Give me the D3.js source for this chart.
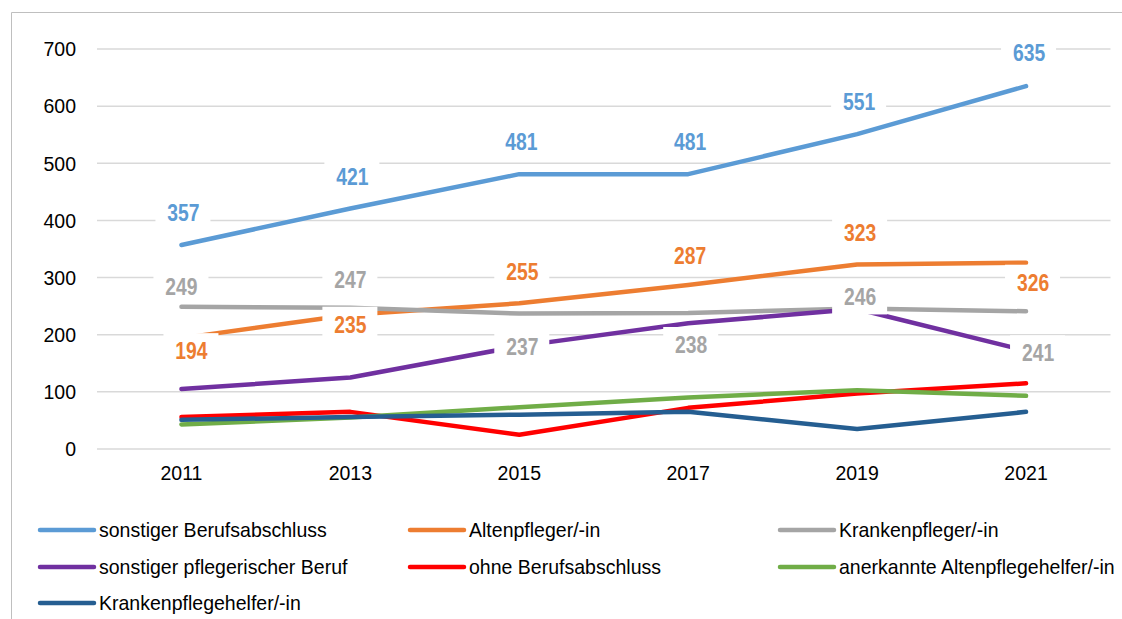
<!DOCTYPE html>
<html>
<head>
<meta charset="utf-8">
<script src="https://cdn.jsdelivr.net/npm/d3@7"></script>
<style>
  body { margin: 0; background: #fff; }
  svg text { font-family: "Liberation Sans Narrow", "Arial Narrow", "Liberation Sans", sans-serif; }
</style>
</head>
<body>
<div id="chart-area"></div>
<script>
/*
*    Line chart: Pflegepersonal nach Berufsabschluss 2011-2021
*/

var years = ["2011", "2013", "2015", "2017", "2019", "2021"];
var yTicks = [0, 100, 200, 300, 400, 500, 600, 700];

var seriesNames = [
    "sonstiger Berufsabschluss", "Altenpfleger/-in", "Krankenpfleger/-in",
    "sonstiger pflegerischer Beruf", "ohne Berufsabschluss",
    "anerkannte Altenpflegehelfer/-in", "Krankenpflegehelfer/-in"
];
var seriesColors = ["#5B9BD5", "#ED7D31", "#A5A5A5", "#7030A0", "#FF0000", "#70AD47", "#255E91"];

var sonstigerBerufsabschluss = [357, 421, 481, 481, 551, 635];
var altenpfleger = [194, 235, 255, 287, 323, 326];
var krankenpfleger = [249, 247, 237, 238, 246, 241];
var sonstigerPflegerisch = [105, 125, 180, 220, 245, 172];
var ohneBerufsabschluss = [56, 65, 25, 72, 97, 115];
var altenpflegehelfer = [43, 55, 73, 90, 103, 93];
var krankenpflegehelfer = [51, 56, 60, 65, 35, 65];

var seriesValues = [sonstigerBerufsabschluss, altenpfleger, krankenpfleger,
    sonstigerPflegerisch, ohneBerufsabschluss, altenpflegehelfer, krankenpflegehelfer];

// which series carry data labels, and where Excel pushed each label (dx, dy from the point)
var labelled = [0, 1, 2];
var labelOffsets = [
    [[2, -32], [2, -31], [2, -32], [2, -32], [2, -32], [3, -33]],
    [[10, 13], [0, 10], [3, -31], [2, -29], [3, -31], [7, 20]],
    [[0, -20], [0, -28], [3, 33], [3, 32], [3, -11], [12, 42]]
];

var margin = { left: 97, right: 12, top: 49, bottom: 170 };
var W = 1122, H = 619;
var width = W - margin.left - margin.right + 0.5;
var height = H - margin.top - margin.bottom;

// no narrow font installed: squeeze the regular one horizontally around its anchor
function condense(sel, ratio){
    sel.each(function(){
        var ax = +(this.getAttribute("x") || 0);
        d3.select(this).attr("transform",
            "translate(" + ax + ",0) scale(" + ratio + ",1) translate(" + (-ax) + ",0)");
    });
}

var svg = d3.select("#chart-area")
    .append("svg")
        .attr("width", W)
        .attr("height", H);

// outer chart frame (only top and left edges are visible)
svg.append("path")
    .attr("d", "M11.5," + H + "V12.5H" + W)
    .attr("fill", "none")
    .attr("stroke", "#BFBFBF")
    .attr("stroke-width", 1);

var g = svg.append("g")
    .attr("transform", "translate(" + margin.left + "," + margin.top + ")");

var x = d3.scaleBand()
    .domain(years)
    .range([0, width])
    .padding(0);

var xc = function(d){ return x(d) + x.bandwidth() / 2; };

var y = d3.scaleLinear()
    .domain([0, 700])
    .range([height, 0]);

// gridlines
g.selectAll(".grid")
    .data(yTicks)
  .enter().append("line")
    .attr("class", "grid")
    .attr("x1", 0)
    .attr("x2", width)
    .attr("y1", function(d){ return y(d); })
    .attr("y2", function(d){ return y(d); })
    .attr("stroke", "#D9D9D9")
    .attr("stroke-width", 1.5);

// y axis labels
var yAxis = d3.axisLeft(y).tickValues(yTicks).tickSize(0).tickPadding(21);
g.append("g")
    .attr("class", "y-axis")
    .call(yAxis)
    .call(function(s){ s.select(".domain").remove(); })
    .selectAll("text")
        .attr("font-size", 21)
        .attr("fill", "#000")
        .attr("font-family", null)
        .call(condense, 0.93);

// x axis labels
var xAxis = d3.axisBottom(x).tickSize(0).tickPadding(16);
g.append("g")
    .attr("class", "x-axis")
    .attr("transform", "translate(0," + height + ")")
    .call(xAxis)
    .call(function(s){ s.select(".domain").remove(); })
    .selectAll("text")
        .attr("font-size", 21)
        .attr("fill", "#000")
        .attr("font-family", null)
        .call(condense, 0.93);

var line = d3.line()
    .x(function(d, i){ return xc(years[i]); })
    .y(function(d){ return y(d); });

g.selectAll(".series")
    .data(seriesValues)
  .enter().append("path")
    .attr("class", "series")
    .attr("d", function(d){ return line(d); })
    .attr("fill", "none")
    .attr("stroke", function(d, i){ return seriesColors[i]; })
    .attr("stroke-width", 4.5)
    .attr("stroke-linecap", "round")
    .attr("stroke-linejoin", "round");

// data labels with white boxes
labelled.forEach(function(si){
    var lab = g.append("g").attr("class", "labels-" + si);
    var pts = seriesValues[si].map(function(v, i){
        return { v: v, i: i, dx: labelOffsets[si][i][0], dy: labelOffsets[si][i][1] };
    });
    lab.selectAll("rect")
        .data(pts)
      .enter().append("rect")
        .attr("x", function(d){ return xc(years[d.i]) + d.dx - 28; })
        .attr("y", function(d){ return y(d.v) + d.dy - 18; })
        .attr("width", 55)
        .attr("height", 35)
        .attr("fill", "#fff");
    lab.selectAll("text")
        .data(pts)
      .enter().append("text")
        .attr("x", function(d){ return xc(years[d.i]) + d.dx; })
        .attr("y", function(d){ return y(d.v) + d.dy; })
        .attr("dy", "0.35em")
        .attr("text-anchor", "middle")
        .attr("font-size", 23)
        .attr("font-weight", "bold")
        .attr("fill", seriesColors[si])
        .text(function(d){ return d.v; })
        .call(condense, 0.84);
});

// legend
var legendCols = [40, 410, 780];
var legendRows = [530, 567, 603];
var legend = svg.selectAll(".legend")
    .data(seriesNames)
  .enter().append("g")
    .attr("class", "legend")
    .attr("transform", function(d, i){
        return "translate(" + legendCols[i % 3] + "," + legendRows[Math.floor(i / 3)] + ")";
    });

legend.append("line")
    .attr("x1", 0).attr("x2", 54)
    .attr("y1", 0).attr("y2", 0)
    .attr("stroke", function(d, i){ return seriesColors[i]; })
    .attr("stroke-width", 4.5)
    .attr("stroke-linecap", "round");

legend.append("text")
    .attr("x", 59)
    .attr("y", 0)
    .attr("dy", "0.35em")
    .attr("font-size", 21)
    .attr("fill", "#000")
    .text(function(d){ return d; })
    .call(condense, 0.93);
</script>
</body>
</html>
